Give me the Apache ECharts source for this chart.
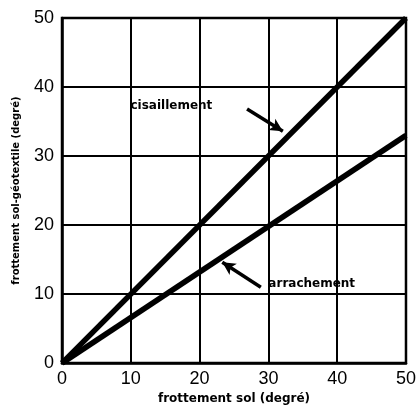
<!DOCTYPE html>
<html>
<head>
<meta charset="utf-8">
<script src="https://cdn.jsdelivr.net/npm/echarts@6/dist/echarts.min.js"></script>
<style>
  html, body { margin: 0; padding: 0; background: #fff; }
  #chart { width: 419px; height: 410px; }
</style>
</head>
<body>
<div id="chart"></div>
<script>
// Friction angles (degrees): soil friction vs soil–geotextile friction
const soilFriction = [0, 50];
const shearValues = [0, 50];        // cisaillement
const pulloutValues = [0, 33];      // arrachement
const tickValues = [0, 10, 20, 30, 40, 50];

// Annotation labels and the point each arrow starts from / points to
const shearLabel = { text: 'cisaillement', at: [15.9, 37.2], from: [26.9, 36.8], to: [32.1, 33.6] };
const pulloutLabel = { text: 'arrachement', at: [36.3, 11.5], from: [28.9, 11.0], to: [23.3, 14.6] };

const chart = echarts.init(document.getElementById('chart'));

function annotation(a) {
  return {
    markLine: {
      silent: true,
      symbol: ['none', 'arrow'],
      symbolSize: [10, 13],
      label: { show: false },
      lineStyle: { color: '#000', width: 3.5, type: 'solid' },
      data: [[{ coord: a.from }, { coord: a.to }]]
    },
    markPoint: {
      silent: true,
      symbol: 'circle',
      symbolSize: 0,
      label: {
        show: true,
        formatter: a.text,
        color: '#000',
        fontFamily: 'DejaVu Sans',
        fontWeight: 'bold',
        fontSize: 12,
        position: 'inside'
      },
      data: [{ coord: a.at }]
    }
  };
}

const axisCommon = {
  type: 'value',
  min: 0,
  max: 50,
  interval: 10,
  axisLine: { show: true, lineStyle: { color: '#000', width: 2.5 } },
  axisTick: { show: false },
  splitLine: { show: true, lineStyle: { color: '#000', width: 2 } },
  axisLabel: {
    color: '#000',
    fontFamily: 'Liberation Sans',
    fontSize: 18,
    customValues: tickValues
  },
  nameLocation: 'middle',
  nameTextStyle: {
    color: '#000',
    fontFamily: 'DejaVu Sans',
    fontWeight: 'bold',
    fontSize: 12
  }
};

chart.setOption({
  animation: false,
  backgroundColor: '#fff',
  grid: {
    left: 62, right: 11, top: 18, bottom: 43,
    show: true, borderColor: '#000', borderWidth: 2.5
  },
  xAxis: Object.assign({}, axisCommon, {
    name: 'frottement sol (degré)',
    nameGap: 28,
    axisLabel: Object.assign({}, axisCommon.axisLabel, { margin: 7 })
  }),
  yAxis: Object.assign({}, axisCommon, {
    name: 'frottement sol-géotextile (degré)',
    nameGap: 41,
    nameTextStyle: Object.assign({}, axisCommon.nameTextStyle, { fontSize: 10, padding: [0, 0, 0, 0] }),
    axisLabel: Object.assign({}, axisCommon.axisLabel, { margin: 8 })
  }),
  series: [
    Object.assign({
      name: 'cisaillement',
      type: 'line',
      data: soilFriction.map((x, i) => [x, shearValues[i]]),
      symbol: 'none',
      lineStyle: { color: '#000', width: 5.5 }
    }, annotation(shearLabel)),
    Object.assign({
      name: 'arrachement',
      type: 'line',
      data: soilFriction.map((x, i) => [x, pulloutValues[i]]),
      symbol: 'none',
      lineStyle: { color: '#000', width: 5.5 }
    }, annotation(pulloutLabel))
  ]
});
</script>
</body>
</html>
